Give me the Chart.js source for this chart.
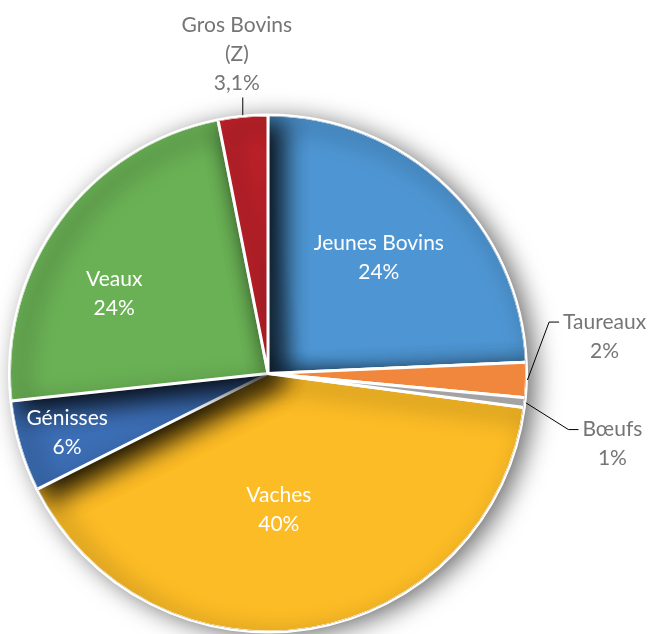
<!DOCTYPE html>
<html>
<head>
<meta charset="utf-8">
<script src="https://cdn.jsdelivr.net/npm/chart.js@4.4.1/dist/chart.umd.min.js"></script>
<style>
  html, body { margin: 0; padding: 0; background: #fff; }
  #wrap { width: 654px; height: 634px; position: relative; }
</style>
</head>
<body>
<div id="wrap"><canvas id="canvas"></canvas></div>
<script>
'use strict';

// categories (clockwise from 12 o'clock)
var categories = ['Jeunes Bovins', 'Taureaux', 'Bœufs', 'Vaches', 'Génisses', 'Veaux', 'Gros Bovins (Z)'];
// share of each slice
var shares = [24.3, 2.2, 0.6, 40.5, 5.7, 23.6, 3.1];
// text shown on the chart
var nameLines = [['Jeunes Bovins'], ['Taureaux'], ['Bœufs'], ['Vaches'], ['Génisses'], ['Veaux'], ['Gros Bovins', '(Z)']];
var pctLabels = ['24%', '2%', '1%', '40%', '6%', '24%', '3,1%'];

var sliceColors = ['#4E96D3', '#F0873D', '#A3A3A3', '#FCBC26', '#3C6EB5', '#6AB155', '#C1222A'];

// label placement: inside labels at a fraction of the radius, outside ones with a leader line
var labelPlace = [
	{ inside: true, f: 0.62, a: 0 },
	{ inside: false, f: 1.31, a: -7.7, side: 'right' },
	{ inside: false, f: 1.36, a: 5.1, side: 'right' },
	{ inside: true, f: 0.53, a: 5 },
	{ inside: true, f: 0.81, a: 0 },
	{ inside: true, f: 0.67, a: -9 },
	{ inside: false, f: 1.24, a: 0, side: 'top' }
];
// thin slices that stay free of the neighbour's shadow
var unshaded = [1, 2];

var FONT = '21px Lato, "Liberation Sans", sans-serif';
var LINE_H = 29;

function setShadow(ctx, color, blur, dx, dy) {
	ctx.shadowColor = color;
	ctx.shadowBlur = blur;
	ctx.shadowOffsetX = dx;
	ctx.shadowOffsetY = dy;
}

// shadows: a soft one round the whole pie, and each slice casting one on the slices before it
var shadowPlugin = {
	id: 'sliceShadow',
	beforeDatasetDraw: function(chart, args) {
		var ctx = chart.ctx;
		var a = args.meta.data[0];
		ctx.save();
		setShadow(ctx, 'rgba(0,0,0,0.6)', 26, 8, 4);
		ctx.fillStyle = '#ffffff';
		ctx.beginPath();
		ctx.arc(a.x, a.y, a.outerRadius, 0, Math.PI * 2);
		ctx.fill();
		ctx.restore();
	},
	afterDatasetDraw: function(chart, args) {
		var ctx = chart.ctx;
		var arcs = args.meta.data;
		var a = arcs[0];
		ctx.save();
		ctx.beginPath();
		ctx.arc(a.x, a.y, a.outerRadius - 1, 0, Math.PI * 2);
		ctx.clip();
		setShadow(ctx, 'rgba(0,0,0,0.95)', 24, 11, 8);
		arcs.forEach(function(arc) {
			arc.draw(ctx);
		});
		setShadow(ctx, 'rgba(0,0,0,0)', 0, 0, 0);
		unshaded.forEach(function(i) {
			arcs[i].draw(ctx);
		});
		ctx.restore();
	}
};

var labelPlugin = {
	id: 'pieLabels',
	afterDatasetsDraw: function(chart) {
		var ctx = chart.ctx;
		var meta = chart.getDatasetMeta(0);
		ctx.save();
		ctx.font = FONT;
		ctx.textAlign = 'center';
		ctx.textBaseline = 'middle';
		meta.data.forEach(function(arc, i) {
			var p = labelPlace[i];
			var cx = arc.x, cy = arc.y, r = arc.outerRadius;
			var mid = (arc.startAngle + arc.endAngle) / 2;
			var ang = mid + p.a * Math.PI / 180;
			var lx = cx + Math.cos(ang) * r * p.f;
			var ly = cy + Math.sin(ang) * r * p.f;
			var lines = nameLines[i].concat([pctLabels[i]]);
			var y0 = ly - (lines.length - 1) * LINE_H / 2;

			if (!p.inside) {
				var ex = cx + Math.cos(mid) * (r + 1);
				var ey = cy + Math.sin(mid) * (r + 1);
				ctx.strokeStyle = '#000';
				ctx.lineWidth = 1;
				ctx.beginPath();
				ctx.moveTo(ex, ey);
				if (p.side === 'right') {
					var w = ctx.measureText(lines[0]).width;
					var left = lx - w / 2;
					ctx.lineTo(left - 14, y0);
					ctx.lineTo(left - 4, y0);
				} else {
					ctx.lineTo(ex, y0 + (lines.length - 1) * LINE_H + 14);
				}
				ctx.stroke();
			}

			ctx.fillStyle = p.inside ? '#ffffff' : '#757575';
			lines.forEach(function(t, k) {
				ctx.fillText(t, lx, y0 + k * LINE_H);
			});
		});
		ctx.restore();
	}
};

var ctx = document.getElementById('canvas').getContext('2d');
window.myPie = new Chart(ctx, {
	type: 'pie',
	data: {
		labels: categories,
		datasets: [{
			data: shares,
			backgroundColor: sliceColors,
			borderColor: '#ffffff',
			borderWidth: 3
		}]
	},
	options: {
		responsive: true,
		maintainAspectRatio: false,
		animation: false,
		layout: { padding: { left: 8, right: 126, top: 113, bottom: 0 } },
		plugins: {
			legend: { display: false },
			tooltip: { enabled: false }
		}
	},
	plugins: [shadowPlugin, labelPlugin]
});
</script>
</body>
</html>
